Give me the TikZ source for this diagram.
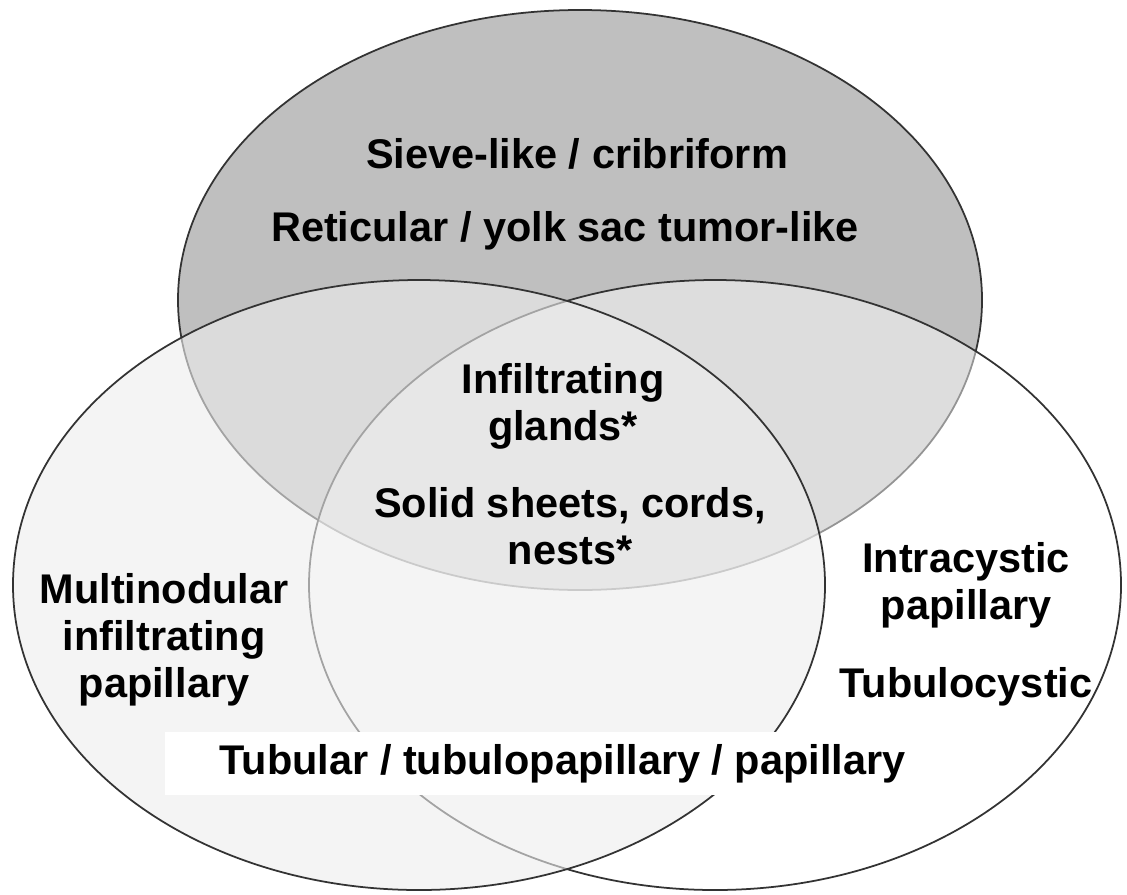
\documentclass[tikz,border=0pt]{standalone}
\usepackage{fontspec}
\setmainfont{Liberation Sans}
\usepackage{tikz}

\tikzset{
  ring/.style={draw=black!80, line width=0.5pt},
  lbl/.style={font=\fontsize{11.8}{13.4}\selectfont\bfseries, align=center, inner sep=0pt, anchor=north}
}

\begin{document}
\begin{tikzpicture}
\useasboundingbox (0,0) rectangle (11.27,8.94);
\fill[white] (0,0) rectangle (11.27,8.94);

%: \setellipse{<options>}{<centre>}{<x radius>}{<y radius>}
\newcommand{\setellipse}[4]{%
\draw[ring,#1] #2 ellipse [x radius=#3, y radius=#4];}

% top set first, then right, then left (see-through)
\setellipse{fill=black!25}{(5.80,5.94)}{4.02}{2.90}
\setellipse{fill=white, fill opacity=0.48}{(7.15,3.09)}{4.06}{3.05}
\setellipse{fill=black!6.5, fill opacity=0.6}{(4.19,3.09)}{4.06}{3.05}

% labels
\node[lbl] (sieve) at (5.77,7.56) {Sieve-like / cribriform};
\node[lbl] (retic) at (5.65,6.83) {Reticular / yolk sac tumor-like};
\node[lbl] (glands) at (5.63,5.31) {Infiltrating\\glands*};
\node[lbl] (solid) at (5.70,4.07) {Solid sheets, cords,\\nests*};
\node[lbl] (multi) at (1.64,3.21) {Multinodular\\infiltrating\\papillary};
\node[lbl] (intra) at (9.66,3.52) {Intracystic\\papillary};
\node[lbl] (tubcys) at (9.66,2.27) {Tubulocystic};
\node[lbl, anchor=center, fill=white, minimum width=7.95cm, minimum height=0.63cm]
  (tubular) at (5.625,1.305) {Tubular / tubulopapillary / papillary};
\end{tikzpicture}
\end{document}
